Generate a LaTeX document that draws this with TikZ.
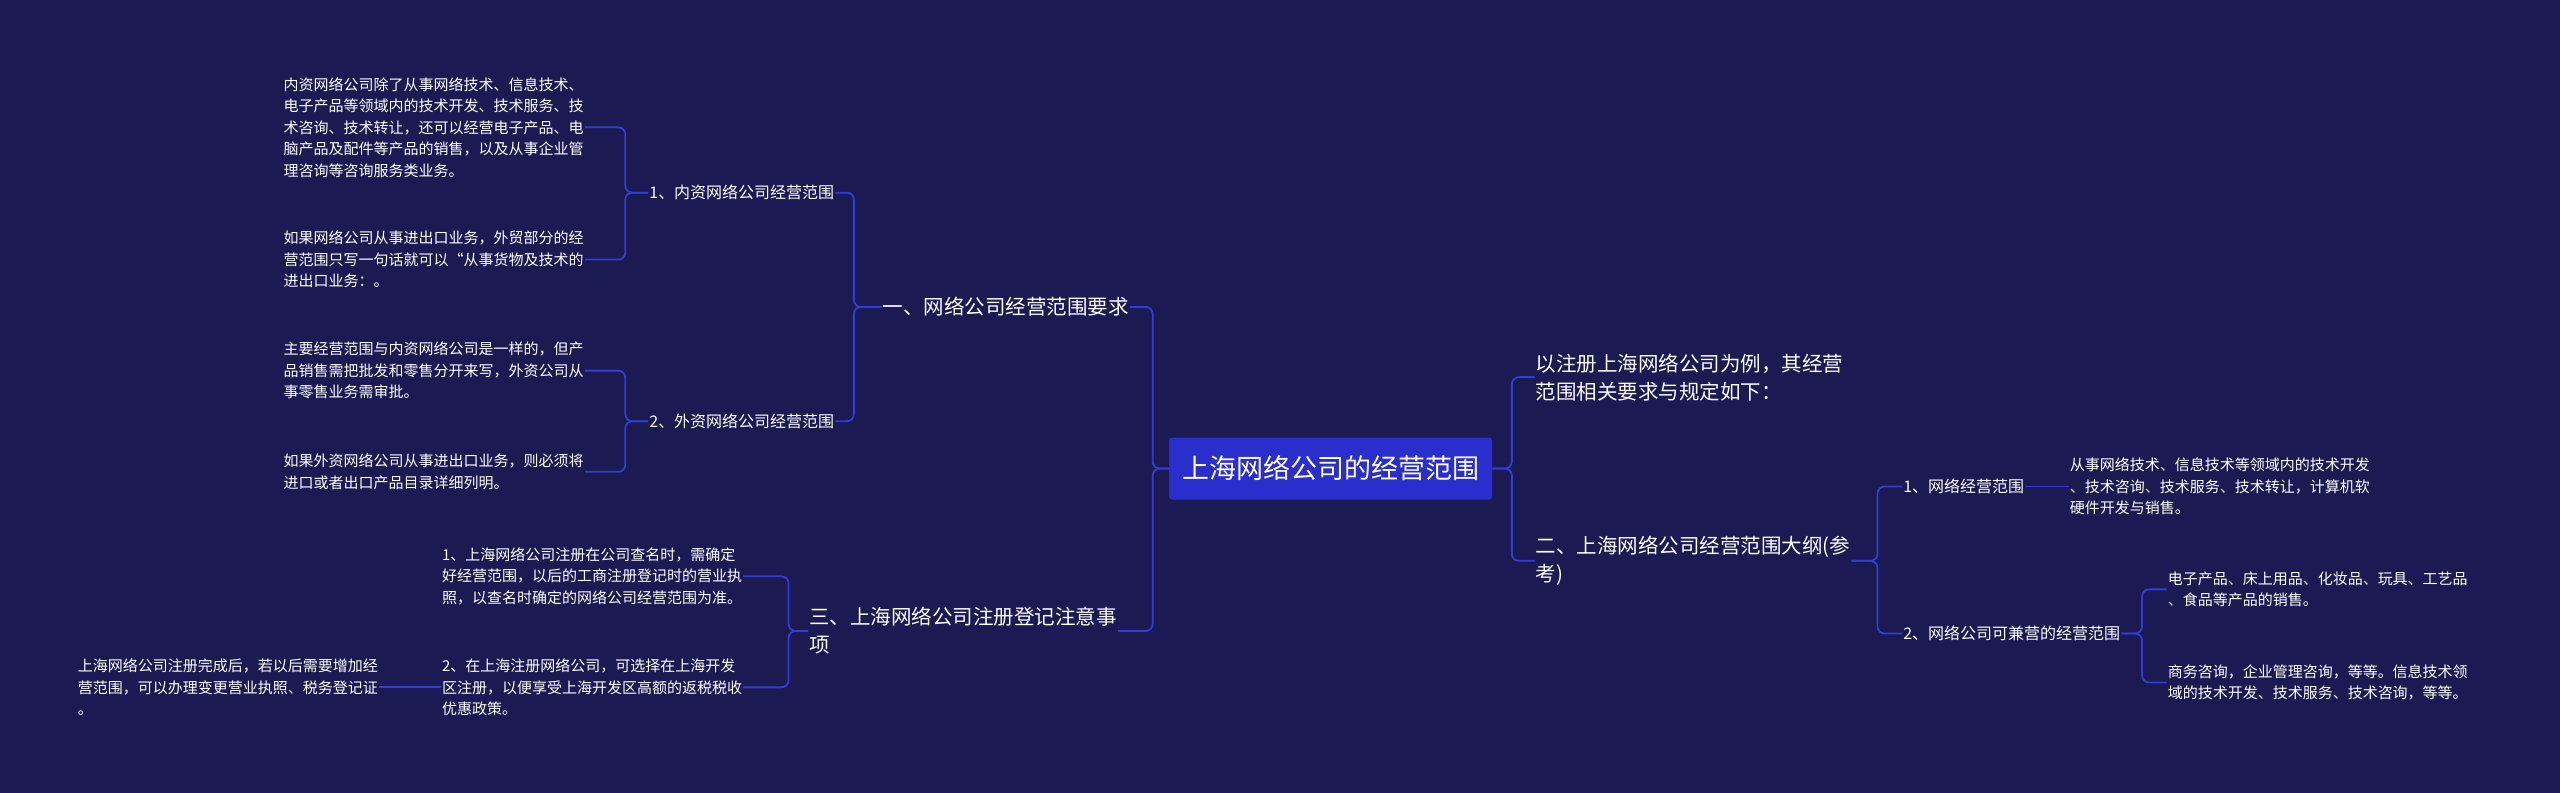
\documentclass[tikz,border=0pt]{standalone}
\usepackage{fontspec}
\setmainfont{Noto Sans CJK SC}
\definecolor{bg}{RGB}{27,26,82}
\definecolor{rootc}{RGB}{42,46,204}
\definecolor{linec}{RGB}{52,60,214}
\tikzset{
 leaf/.style={text=white,align=left,inner sep=1pt,font=\fontsize{15}{21.5}\selectfont},
 sub/.style={text=white,align=left,inner sep=1pt,font=\fontsize{16}{22}\selectfont},
 lvl/.style={text=white,align=left,inner sep=1pt,font=\fontsize{20.5}{28}\selectfont},
 rootbox/.style={fill=rootc,text=white,rounded corners=3pt,minimum width=323pt,minimum height=62pt,font=\fontsize{27}{32}\selectfont},
 conn/.style={draw=linec,line width=1.8pt,rounded corners=7pt}
}
\begin{document}
\begin{tikzpicture}[x=1.6327pt,y=-1.6327pt]
\fill[bg] (0,0) rectangle (1568,485.7);
\useasboundingbox (0,0) rectangle (1568,485.7);
\node[rootbox] (root) at (815,287) {上海网络公司的经营范围};
% left
\node[lvl,anchor=west] (a) at (540,188) {一、网络公司经营范围要求};
\node[sub,anchor=west] (a1) at (397,118) {1、内资网络公司经营范围};
\node[sub,anchor=west] (a2) at (397,258) {2、外资网络公司经营范围};
\node[leaf,anchor=west] (a1x) at (173,78) {内资网络公司除了从事网络技术、信息技术、\\电子产品等领域内的技术开发、技术服务、技\\术咨询、技术转让，还可以经营电子产品、电\\脑产品及配件等产品的销售，以及从事企业管\\理咨询等咨询服务类业务。};
\node[leaf,anchor=west] (a1y) at (173,159) {如果网络公司从事进出口业务，外贸部分的经\\营范围只写一句话就可以“从事货物及技术的\\进出口业务：。};
\node[leaf,anchor=west] (a2x) at (173,227) {主要经营范围与内资网络公司是一样的，但产\\品销售需把批发和零售分开来写，外资公司从\\事零售业务需审批。};
\node[leaf,anchor=west] (a2y) at (173,289) {如果外资网络公司从事进出口业务，则必须将\\进口或者出口产品目录详细列明。};
\node[lvl,anchor=west] (c) at (495,386.5) {三、上海网络公司注册登记注意事\\项};
\node[leaf,anchor=west] (c1) at (270,353) {1、上海网络公司注册在公司查名时，需确定\\好经营范围，以后的工商注册登记时的营业执\\照，以查名时确定的网络公司经营范围为准。};
\node[leaf,anchor=west] (c2) at (270,421) {2、在上海注册网络公司，可选择在上海开发\\区注册，以便享受上海开发区高额的返税税收\\优惠政策。};
\node[leaf,anchor=west] (c2x) at (47,421) {上海网络公司注册完成后，若以后需要增加经\\营范围，可以办理变更营业执照、税务登记证\\。};
% right
\node[lvl,anchor=west] (b) at (940,231) {以注册上海网络公司为例，其经营\\范围相关要求与规定如下：};
\node[lvl,anchor=west] (d) at (940,343.5) {二、上海网络公司经营范围大纲(参\\考)};
\node[sub,anchor=west] (d1) at (1165,298) {1、网络经营范围};
\node[leaf,anchor=west] (d1x) at (1267,298) {从事网络技术、信息技术等领域内的技术开发\\、技术咨询、技术服务、技术转让，计算机软\\硬件开发与销售。};
\node[sub,anchor=west] (d2) at (1165,388) {2、网络公司可兼营的经营范围};
\node[leaf,anchor=west] (d2x) at (1327,361) {电子产品、床上用品、化妆品、玩具、工艺品\\、食品等产品的销售。};
\node[leaf,anchor=west] (d2y) at (1327,418) {商务咨询，企业管理咨询，等等。信息技术领\\域的技术开发、技术服务、技术咨询，等等。};
% connectors
\draw[conn] (root.west) -- (706,287) |- (a.east);
\draw[conn] (root.west) -- (706,287) |- (c.east);
\draw[conn] (a.west) -- (523,188) |- (a1.east);
\draw[conn] (a.west) -- (523,188) |- (a2.east);
\draw[conn] (a1.west) -- (383,118) |- (a1x.east);
\draw[conn] (a1.west) -- (383,118) |- (a1y.east);
\draw[conn] (a2.west) -- (383,258) |- (a2x.east);
\draw[conn] (a2.west) -- (383,258) |- (a2y.east);
\draw[conn] (c.west) -- (483,386.5) |- (c1.east);
\draw[conn] (c.west) -- (483,386.5) |- (c2.east);
\draw[conn] (c2.west) -- (c2x.east);
\draw[conn] (root.east) -- (926,287) |- (b.west);
\draw[conn] (root.east) -- (926,287) |- (d.west);
\draw[conn] (d.east) -- (1150,343.5) |- (d1.west);
\draw[conn] (d.east) -- (1150,343.5) |- (d2.west);
\draw[conn] (d1.east) -- (d1x.west);
\draw[conn] (d2.east) -- (1312,388) |- (d2x.west);
\draw[conn] (d2.east) -- (1312,388) |- (d2y.west);
\end{tikzpicture}
\end{document}
